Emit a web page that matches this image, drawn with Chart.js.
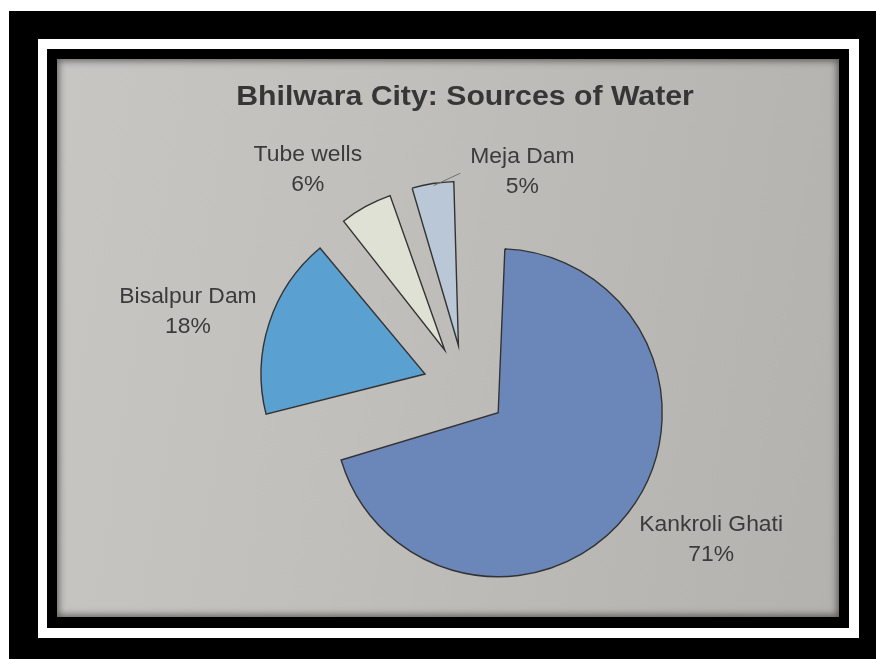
<!DOCTYPE html>
<html>
<head>
<meta charset="utf-8">
<title>Bhilwara City: Sources of Water</title>
<script src="https://cdn.jsdelivr.net/npm/chart.js@4.4.1/dist/chart.umd.min.js"></script>
<style>
  html, body { margin: 0; padding: 0; background: #ffffff; }
  body { width: 876px; height: 659px; position: relative; overflow: hidden; }
  .box { position: absolute; box-sizing: border-box; }
  #outer { left: 9px; top: 11px; width: 867px; height: 648px; background: #000; }
  #ring  { left: 38px; top: 39px; width: 821px; height: 599px; background: #fff; }
  #inner { left: 47px; top: 49px; width: 802px; height: 579px; background: #000; }
  #paper {
    left: 57px; top: 59px; width: 782px; height: 558px;
    background: linear-gradient(100deg, #c7c6c3 0%, #c0bfbb 40%, #b9b7b3 75%, #b4b2ae 100%);
    box-shadow: inset 0 0 7px 2px rgba(0,0,0,0.5);
  }
  #chart { position: absolute; left: 0; top: 0; }
</style>
</head>
<body>
<div class="box" id="outer"></div>
<div class="box" id="ring"></div>
<div class="box" id="inner"></div>
<div class="box" id="paper"></div>
<canvas id="chart" width="876" height="659"></canvas>
<script>
// Water sources of Bhilwara city, share of supply in percent
const sources = ['Kankroli Ghati', 'Bisalpur Dam', 'Tube wells', 'Meja Dam'];
const shares = [71, 18, 6, 5];
const sliceColors = ['#6b87b9', '#5aa0d0', '#e0e1d5', '#b9c7d6'];
const chartTitle = 'Bhilwara City: Sources of Water';

// every slice is pulled out of the pie by the same distance (px)
const EXPLODE = 42;
const PIE_RADIUS = 164;
const LABEL_GAP = 60;
// fine placement of each label block relative to its radial anchor
const labelNudge = [
  { dx: 36, dy: -10 },
  { dx: -24, dy: 7 },
  { dx: -29, dy: 16 },
  { dx: 99, dy: 48 }
];
const leaderLine = [false, false, false, true];

const total = shares.reduce((a, b) => a + b, 0);

// Chart.js translates an arc by offset/4 and also grows its radius by
// offset/4 * (1 - sin(min(PI, circumference))); this growth is removed
// again below so all slices keep the same radius
function radiusGrowth(index) {
  const circ = shares[index] / total * Math.PI * 2;
  return EXPLODE * (1 - Math.sin(Math.min(Math.PI, circ)));
}

const equalRadius = {
  id: 'equalRadius',
  afterDatasetsUpdate(chart) {
    chart.getDatasetMeta(0).data.forEach((arc, i) => {
      arc.outerRadius = PIE_RADIUS - radiusGrowth(i);
    });
  }
};

function stretchedText(ctx, text, x, y, sx) {
  ctx.save();
  ctx.translate(x, y);
  ctx.scale(sx, 1);
  ctx.fillText(text, 0, 0);
  ctx.restore();
}

const textPlugin = {
  id: 'pieText',
  afterDatasetsDraw(chart) {
    const ctx = chart.ctx;
    const meta = chart.getDatasetMeta(0);
    const area = chart.chartArea;

    // title
    ctx.save();
    ctx.fillStyle = '#363636';
    ctx.textAlign = 'center';
    ctx.textBaseline = 'alphabetic';
    ctx.font = 'bold 28px "Liberation Sans", Arial, sans-serif';
    stretchedText(ctx, chartTitle, (area.left + area.right) / 2, 105, 1.08);
    ctx.restore();

    // slice labels
    meta.data.forEach((arc, i) => {
      const p = arc.getProps(['x', 'y', 'startAngle', 'endAngle'], true);
      const mid = (p.startAngle + p.endAngle) / 2;
      const dist = PIE_RADIUS + EXPLODE + LABEL_GAP;
      const cx = p.x + Math.cos(mid) * dist + labelNudge[i].dx;
      const cy = p.y + Math.sin(mid) * dist + labelNudge[i].dy;

      ctx.save();
      ctx.fillStyle = '#3b3b3b';
      ctx.textAlign = 'center';
      ctx.textBaseline = 'middle';
      ctx.font = '22px "Liberation Sans", Arial, sans-serif';
      const sx = 1.04;
      stretchedText(ctx, sources[i], cx, cy - 15, sx);
      stretchedText(ctx, shares[i] + '%', cx, cy + 15, sx);

      if (leaderLine[i]) {
        const w = ctx.measureText(sources[i]).width * sx;
        const rx = p.x + Math.cos(mid) * (PIE_RADIUS + EXPLODE);
        const ry = p.y + Math.sin(mid) * (PIE_RADIUS + EXPLODE);
        ctx.strokeStyle = '#707070';
        ctx.lineWidth = 1;
        ctx.beginPath();
        ctx.moveTo(rx + 1, ry + 2);
        ctx.lineTo(cx - w / 2 - 10, cy + 1);
        ctx.stroke();
      }
      ctx.restore();
    });
  }
};

new Chart(document.getElementById('chart'), {
  type: 'pie',
  data: {
    labels: sources,
    datasets: [{
      data: shares,
      backgroundColor: sliceColors,
      borderColor: '#333333',
      borderWidth: 1.4,
      borderJoinStyle: 'miter',
      offset: EXPLODE * 4,
      radius: PIE_RADIUS,
      clip: false
    }]
  },
  options: {
    responsive: false,
    animation: false,
    events: [],
    layout: { padding: { left: 100, right: 46, top: 150, bottom: 35 } },
    plugins: {
      legend: { display: false },
      tooltip: { enabled: false },
      title: { display: false }
    }
  },
  plugins: [equalRadius, textPlugin]
});
</script>
</body>
</html>
